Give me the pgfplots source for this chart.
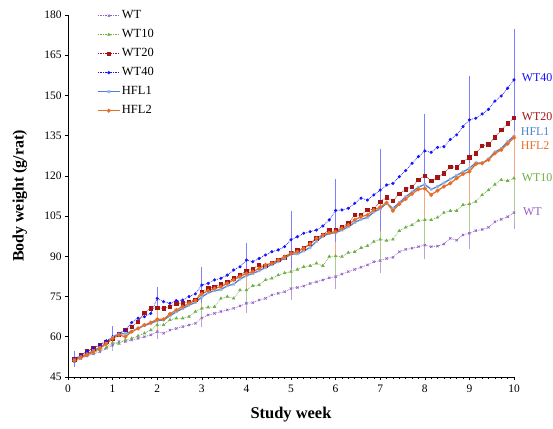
\documentclass[border=0pt]{standalone}
\usepackage{fontspec}
\setmainfont{Liberation Serif}
\usepackage{pgfplots}
\pgfplotsset{compat=1.18}
\usepackage{pgfplotstable}

\definecolor{cWT}{RGB}{150,95,200}
\definecolor{cWTten}{RGB}{112,175,70}
\definecolor{cWTtw}{RGB}{165,20,20}
\definecolor{cWTfo}{RGB}{20,20,255}
\definecolor{cHa}{RGB}{75,130,210}
\definecolor{cHb}{RGB}{232,110,40}

% body weight per day (d = study day, x = d/7 weeks)
\pgfplotstableread{
d WT WT10 WT20 WT40 HFL1 HFL2
1 50.7 51.1 51.6 51.8 51.4 51.1
2 51.9 52.3 53.0 53.0 52.5 52.3
3 52.8 53.2 54.6 54.5 53.6 53.2
4 53.6 54.1 55.7 55.8 54.8 54.4
5 54.4 55.1 56.9 57.0 56.0 55.7
6 55.7 56.0 58.2 58.5 57.6 57.3
7 56.9 57.8 59.4 60.0 59.8 59.4
8 58.2 57.5 60.9 61.3 61.0 60.7
9 58.2 58.8 62.5 62.5 61.2 60.0
10 58.8 59.4 63.8 65.3 62.0 61.9
11 59.4 60.3 65.6 66.9 63.2 63.1
12 60.0 61.3 69.0 67.5 64.2 64.4
13 60.7 62.5 70.6 68.7 65.0 65.3
14 61.9 64.4 70.8 74.3 66.0 66.5
15 61.3 64.4 70.6 73.1 66.3 66.5
16 62.5 66.3 71.2 72.5 67.8 68.5
17 63.1 66.9 72.5 73.5 69.3 70.0
18 63.8 66.9 72.5 73.7 70.5 71.2
19 64.4 67.5 73.1 75.0 71.8 72.5
20 65.0 69.4 73.7 76.0 72.8 73.5
21 67.0 70.6 76.8 79.3 74.8 76.0
22 68.1 71.0 78.0 79.9 76.4 77.2
23 68.7 71.2 78.7 81.2 77.2 78.0
24 69.4 74.3 79.5 81.8 77.6 78.7
25 70.0 75.0 80.5 83.0 79.0 79.9
26 70.6 74.3 81.8 84.9 79.6 81.2
27 71.5 77.4 83.0 86.1 81.5 82.5
28 72.5 77.4 84.5 88.6 82.8 83.6
29 72.7 79.0 85.3 88.0 83.6 84.3
30 73.7 79.3 86.8 89.2 84.6 85.5
31 74.3 81.2 86.5 90.5 85.8 86.8
32 75.6 81.8 87.6 91.7 86.9 87.4
33 76.2 83.0 88.6 92.4 88.0 88.6
34 76.8 83.8 89.6 93.6 89.3 89.9
35 78.0 84.3 91.4 96.2 90.8 91.1
36 78.4 85.1 92.4 97.3 90.9 91.7
37 78.9 86.1 93.0 98.6 92.0 93.0
38 79.9 86.5 94.8 99.2 93.3 94.6
39 80.5 87.4 96.7 99.8 95.6 96.7
40 81.2 86.5 98.0 101.3 97.5 98.0
41 82.0 89.9 99.8 103.6 98.5 98.8
42 82.4 90.1 99.8 107.1 98.8 99.2
43 83.4 89.9 101.1 107.3 99.8 100.4
44 84.3 91.4 102.3 107.9 101.0 101.7
45 85.1 91.7 105.4 109.8 102.6 103.6
46 85.9 93.2 105.4 111.7 103.8 104.8
47 86.8 93.9 107.3 111.0 104.5 105.4
48 88.0 95.5 107.6 112.9 106.5 107.3
49 88.4 96.3 110.4 114.7 107.7 108.3
50 89.2 95.9 112.0 116.6 109.8 110.0
51 89.6 96.3 110.8 117.2 107.9 107.0
52 91.7 99.5 113.3 119.7 110.0 109.5
53 92.6 100.8 115.0 122.0 112.2 111.4
54 93.0 101.7 116.0 124.7 114.0 113.3
55 93.6 103.3 118.5 127.2 115.8 115.0
56 94.2 103.6 120.1 129.3 116.8 115.3
57 93.6 103.6 118.2 128.8 115.0 112.9
58 93.8 104.5 119.4 130.6 116.0 114.5
59 94.6 106.3 120.9 130.9 117.4 116.0
60 96.7 107.0 123.4 133.6 118.8 117.2
61 96.0 107.0 123.2 135.3 120.2 119.1
62 98.0 109.2 125.3 138.4 121.5 120.7
63 98.6 109.5 126.9 140.9 122.8 121.6
64 99.6 110.4 128.4 141.5 124.9 124.4
65 100.0 112.9 131.2 143.1 124.7 124.7
66 100.8 114.7 131.8 144.8 126.3 126.0
67 102.9 116.8 134.4 147.9 128.9 128.4
68 103.8 118.5 137.1 149.8 130.2 129.7
69 104.8 118.2 139.6 152.7 132.8 132.0
70 106.3 119.1 141.7 155.8 134.8 134.3
}\bw

% weekly error bars
\pgfplotstableread{
d WT eWT WT10 eWT10 WT20 eWT20 WT40 eWT40 HFL1 eHFL1 HFL2 eHFL2
1 50.7 1.2 51.1 1.5 51.6 1.5 51.8 2.3 51.4 1.2 51.1 1.5
7 56.9 1.5 57.8 2 59.4 2.5 60.0 3.2 59.8 2 59.4 2.5
14 61.9 2 64.4 2.5 70.8 3 74.3 3.5 66.0 2.5 66.5 3.5
21 67.0 2.5 70.6 3.5 76.8 4 79.3 6.0 74.8 3 76.0 4.5
28 72.5 3 77.4 4.5 84.5 5 88.6 5.6 82.8 4 83.6 5.5
35 78.0 3.5 84.3 5.5 91.4 6 96.2 10 90.8 5 91.1 6.5
42 82.4 4 90.1 6.5 99.8 7 107.1 11 98.8 6 99.2 7.5
49 88.4 4 96.3 8 110.4 9 114.7 14.4 107.7 7 108.3 9
56 94.2 4.5 103.6 9 120.1 10 129.3 13 116.8 8 115.3 10
63 98.6 5 109.5 10 126.9 12 140.9 15.5 122.8 9 121.6 12
70 106.3 5.2 119.1 15 141.7 14 155.8 18.3 134.8 10 134.3 15
}\err

\pgfplotsset{
  ebar/.style={forget plot, draw=none, mark=none,
    error bars/.cd, y dir=both, y explicit,
    error bar style={draw=#1, line width=0.7bp},
    error mark options={draw=#1, mark size=2bp, line width=0.7bp}},
  wtline/.style={#1, densely dotted, line width=0.7bp, mark options={solid}},
}

\begin{document}
\begin{tikzpicture}
\begin{axis}[
  at={(0,0)}, anchor=south west,
  width=446bp, height=362bp, scale only axis,
  xmin=0, xmax=10, ymin=45, ymax=180,
  xtick={0,...,10}, ytick={45,60,...,180},
  minor x tick num=6,
  axis lines=left, axis line style={-, line width=0.8bp},
  tick align=outside, major tick length=3bp, minor tick length=2bp,
  tick style={black, line width=0.6bp},
  /pgf/number format/assume math mode=true,
  tick label style={font=\fontsize{11.5}{13}\selectfont},
  xticklabel style={yshift=-1bp},
  xlabel={\textbf{Study week}},
  ylabel={\textbf{Body weight (g/rat)}},
  x label style={font=\fontsize{16.5}{18}\selectfont, at={(axis description cs:0.5,-0.105)}, anchor=center},
  y label style={font=\fontsize{16}{18}\selectfont, at={(axis description cs:-0.108,0.5)}, anchor=center},
  clip=false,
  legend cell align=left,
  legend style={draw=none, fill=none, at={(0.065,1.018)}, anchor=north west,
    font=\fontsize{12.5}{14}\selectfont, inner sep=0pt, row sep=5bp,
    nodes={inner sep=1.5bp, text height=8.5bp, text depth=2.5bp}},
  legend image code/.code={\draw[mark repeat=2,mark phase=2,#1] plot coordinates {(0bp,0bp) (11bp,0bp) (22bp,0bp)};},
]
% error bars behind lines
\addplot[ebar={cWT!60}] table[x expr=\thisrow{d}/7, y=WT, y error=eWT] {\err};
\addplot[ebar={cWTten!60}] table[x expr=\thisrow{d}/7, y=WT10, y error=eWT10] {\err};
\addplot[ebar={gray!70}] table[x expr=\thisrow{d}/7, y=WT20, y error=eWT20] {\err};
\addplot[ebar={cHa!60}] table[x expr=\thisrow{d}/7, y=HFL1, y error=eHFL1] {\err};
\addplot[ebar={cHb!60}] table[x expr=\thisrow{d}/7, y=HFL2, y error=eHFL2] {\err};
\addplot[ebar={cWTfo!55}] table[x expr=\thisrow{d}/7, y=WT40, y error=eWT40] {\err};

\addplot[wtline=cWT, mark=x, mark size=1.6bp] table[x expr=\thisrow{d}/7, y=WT] {\bw};
\addlegendentry{WT}
\addplot[wtline=cWTten, mark=triangle*, mark size=1.4bp] table[x expr=\thisrow{d}/7, y=WT10] {\bw};
\addlegendentry{WT10}
\addplot[wtline=cWTtw, mark=square*, mark size=1.7bp] table[x expr=\thisrow{d}/7, y=WT20] {\bw};
\addlegendentry{WT20}
\addplot[wtline=cWTfo, mark=*, mark size=1.2bp] table[x expr=\thisrow{d}/7, y=WT40] {\bw};
\addlegendentry{WT40}
\addplot[cHa, line width=1.3bp, mark=x, mark size=1.6bp, mark options={cHa!60}] table[x expr=\thisrow{d}/7, y=HFL1] {\bw};
\addlegendentry{HFL1}
\addplot[cHb, line width=1.3bp, mark=*, mark size=1.3bp] table[x expr=\thisrow{d}/7, y=HFL2] {\bw};
\addlegendentry{HFL2}

\begin{scope}[every node/.style={anchor=west, inner sep=0pt, font=\fontsize{12}{14}\selectfont}]
\node[text=cWTfo] at (axis cs:10.17,156.5) {WT40};
\node[text=cWTtw] at (axis cs:10.17,142.0) {WT20};
\node[text=cHa] at (axis cs:10.15,136.4) {HFL1};
\node[text=cHb] at (axis cs:10.15,131.4) {HFL2};
\node[text=cWTten] at (axis cs:10.17,119.3) {WT10};
\node[text=cWT] at (axis cs:10.2,106.7) {WT};
\end{scope}
\end{axis}
\pgfresetboundingbox
\path[use as bounding box] (-68bp,-52bp) rectangle (485bp,377bp);
\end{tikzpicture}
\end{document}
